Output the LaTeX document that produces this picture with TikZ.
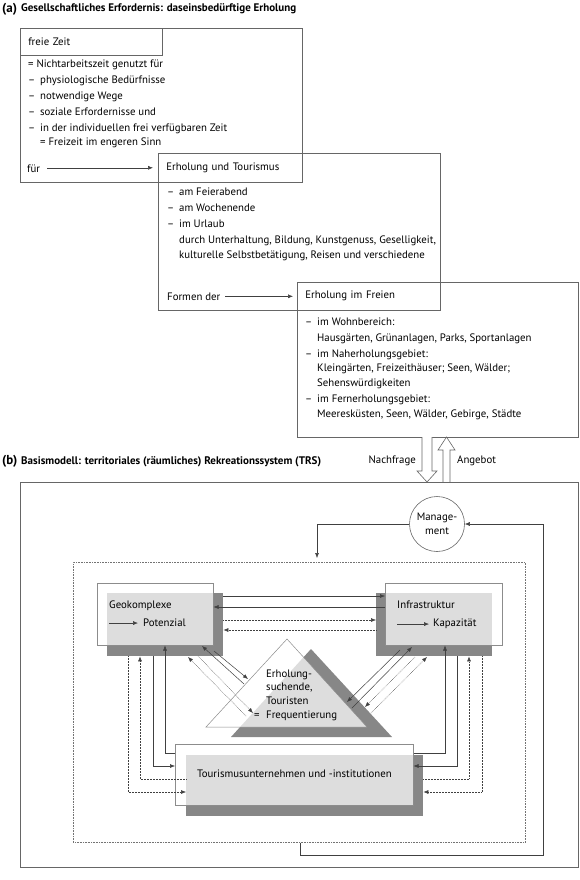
\documentclass[tikz,border=0pt]{standalone}
\usepackage{fontspec}
\setmainfont{PT Sans}
\usetikzlibrary{arrows.meta,calc}
\colorlet{dunkelgrau}{black!47}
\newcommand{\strich}{\makebox[12pt][l]{–}}

\begin{document}
\begin{tikzpicture}
[x=1pt,y=-1pt,
  every node/.style={font=\fontsize{10.8}{12}\selectfont,text=black},
  txt/.style={anchor=base west,inner sep=0pt},
  titel/.style={txt,font=\fontsize{11}{12}\selectfont\bfseries},
  box/.style={draw=black!60,line width=0.6pt,anchor=north west,inner sep=0pt},
  kopf/.style={box,align=left,inner xsep=8pt},
  dunkel/.style={fill=dunkelgrau,anchor=north west,inner sep=0pt},
  hell/.style={draw=black!45,line width=0.5pt,fill=white,fill opacity=0.72,anchor=north west,inner sep=0pt},
  pfeil/.style={-{Latex[length=5pt,width=4pt]},draw=black!75,line width=0.5pt},
  punkt/.style={pfeil,densely dotted},
  hohl/.style={draw=black!60,line width=0.6pt,fill=white}]
\useasboundingbox (0,0) rectangle (580,880);

%% (a) gesellschaftliches Erfordernis
\node[txt,font=\fontsize{13}{14}\selectfont\bfseries] (markeA) at (2,12.5) {(a)};
\node[titel] (titelA) at (21,12) {Gesellschaftliches Erfordernis: daseinsbedürftige Erholung};

\node[box,minimum width=282pt,minimum height=154pt] (freizeit) at (20,28) {};
\node[kopf,minimum width=142pt,minimum height=27pt,text width=126pt] (freikopfA) at (20,28) {freie Zeit};
\foreach \x/\y/\t [count=\i] in {28/64/{= Nichtarbeitszeit genutzt für},
    28/80/{\strich physiologische Bedürfnisse}, 28/96/{\strich notwendige Wege},
    28/112/{\strich soziale Erfordernisse und},
    28/128/{\strich in der individuellen frei verfügbaren Zeit},
    40/142/{= Freizeit im engeren Sinn}} {
  \node[txt] (zeile\i) at (\x,\y+3.8) {\t};
}
\node[txt] (fuer) at (27,172.8) {für};

\node[box,minimum width=282pt,minimum height=157pt] (erholung) at (158,153) {};
\node[kopf,minimum width=144pt,minimum height=29pt,text width=128pt] (erhkopf) at (158,153) {Erholung und Tourismus};
\foreach \x/\y/\t [count=\i] in {167/192/{\strich am Feierabend},
    167/208/{\strich am Wochenende}, 167/224/{\strich im Urlaub},
    179/240/{durch Unterhaltung, Bildung, Kunstgenuss, Geselligkeit,},
    179/255/{kulturelle Selbstbetätigung, Reisen und verschiedene}} {
  \node[txt] (form\i) at (\x,\y+3.8) {\t};
}
\node[txt] (formen) at (167,300.8) {Formen der};

\node[box,minimum width=281pt,minimum height=155pt] (freien) at (297,282) {};
\node[kopf,minimum width=143pt,minimum height=28pt,text width=127pt] (freikopf) at (297,282) {Erholung im Freien};
\foreach \x/\y/\t [count=\i] in {305/322/{\strich im Wohnbereich:},
    317/338/{Hausgärten, Grünanlagen, Parks, Sportanlagen},
    305/354/{\strich im Naherholungsgebiet:},
    317/368/{Kleingärten, Freizeithäuser; Seen, Wälder;},
    317/383/{Sehenswürdigkeiten},
    305/399/{\strich im Fernerholungsgebiet:},
    317/414/{Meeresküsten, Seen, Wälder, Gebirge, Städte}} {
  \node[txt] (ort\i) at (\x,\y+3.8) {\t};
}

\draw[pfeil,shorten <=7pt,shorten >=5pt] (fuer.east |- erhkopf.west) -- (erhkopf.west);
\draw[pfeil,shorten <=5pt,shorten >=4pt] (formen.east |- freikopf.west) -- (freikopf.west);

%% Nachfrage / Angebot
\draw[hohl] (422,437) -- (422,471) -- (417,471) -- (427,482) -- (437,471) -- (432,471) -- (432,437);
\draw[hohl] (443,482) -- (443,450) -- (438,450) -- (446.5,437) -- (455,450) -- (450,450) -- (450,482);
\node[anchor=base east,inner sep=0pt] (nachfrage) at (416,463.8) {Nachfrage};
\node[txt] (angebot) at (457,463.8) {Angebot};

%% (b) Basismodell
\node[txt,font=\fontsize{13}{14}\selectfont\bfseries] (markeB) at (2,464.5) {(b)};
\node[titel] (titelB) at (21,464) {Basismodell: territoriales (räumliches) Rekreationssystem (TRS)};

\node[box,minimum width=558pt,minimum height=385pt] (trs) at (20,482) {};
\node[box,densely dotted,draw=black!55,minimum width=452pt,minimum height=280pt] (system) at (73,562) {};
\node[circle,draw=black!60,line width=0.6pt,minimum size=55pt,inner sep=0pt,align=center,
  font=\fontsize{10.8}{14}\selectfont] (management) at (437,524) {Manage-\\ment};

%% Teilsysteme
\node[dunkel,minimum width=116pt,minimum height=63pt] (geoS) at (107,593) {};
\node[hell,minimum width=116pt,minimum height=62pt] (geo) at (97,583) {};
\node[dunkel,minimum width=116pt,minimum height=63pt] (infraS) at (376,593) {};
\node[hell,minimum width=117pt,minimum height=62pt] (infra) at (385,583) {};
\fill[dunkelgrau] (311,649) -- (231,737) -- (392,737) -- cycle;
\filldraw[hell] (287,639) -- (206,727) -- (367,727) -- cycle;
\node[dunkel,minimum width=237pt,minimum height=61pt] (tourS) at (186,755) {};
\node[hell,minimum width=238pt,minimum height=61pt] (tour) at (175,744) {};

\node[txt] (geotxt) at (109,608.8) {Geokomplexe};
\node[txt] (potenzial) at (143,626.8) {Potenzial};
\node[txt] (infratxt) at (397,608.8) {Infrastruktur};
\node[txt] (kapazitaet) at (433,626.8) {Kapazität};
\foreach \y/\t [count=\i] in {677.8/Erholung-, 690.8/{suchende,}, 704.8/Touristen, 718.8/Frequentierung} {
  \node[txt] (tourist\i) at (266,\y) {\t};
}
\node[txt] (gleich) at (254,718.8) {=};
\node[txt] (tourtxt) at (197,777.8) {Tourismusunternehmen und -institutionen};

\draw[pfeil,shorten >=5pt] (geotxt.west |- potenzial.west) -- (potenzial.west);
\draw[pfeil,shorten >=4pt] (infratxt.west |- kapazitaet.west) -- (kapazitaet.west);

%% Management
\draw[pfeil,shorten >=4pt] (management.west) -| (system.north -| 317,0);
\draw[pfeil] (system.south -| 300,0) |- (543,855) |- (management.east);

%% Geokomplexe <-> Infrastruktur
\draw[pfeil] (geoS.east |- 0,596) -- (infra.west |- 0,596);
\draw[pfeil] (infra.west |- 0,607) -- (geo.east |- 0,607);
\draw[punkt] (geoS.east |- 0,620) -- (infraS.west |- 0,620);
\draw[punkt] (infraS.west |- 0,630) -- (geoS.east |- 0,630);

%% Teilsysteme <-> Tourismusunternehmen
\draw[pfeil] (tour.west |- 0,753) -| (geo.south -| 165,0);
\draw[pfeil] (geoS.south -| 153,0) |- (tour.west |- 0,766);
\draw[punkt] (tourS.west |- 0,779) -| (geoS.south -| 140,0);
\draw[punkt] (geoS.south -| 128,0) |- (tourS.west |- 0,792);
\draw[pfeil] (tour.east |- 0,753) -| (infra.south -| 445,0);
\draw[pfeil] (infraS.south -| 457,0) |- (tour.east |- 0,766);
\draw[punkt] (tourS.east |- 0,779) -| (infraS.south -| 469,0);
\draw[punkt] (infraS.south -| 482,0) |- (tourS.east |- 0,792);

%% Teilsysteme <-> Erholungsuchende
\foreach \n/\x/\y in {l1/214/651, l2/248/679, l3/244/684, l4/202/646,
    l5/198/656, l6/253/713, l7/246/716, l8/188/657,
    r1/400/650, r2/347/702, r3/352/708, r4/412/647,
    r5/415/657, r6/365/707, r7/371/713, r8/427/657} {
  \coordinate (\n) at (\x,\y);
}
\path
\foreach \a/\b/\s in {l1/l2/pfeil, l3/l4/pfeil, l5/l6/punkt, l7/l8/punkt,
    r1/r2/pfeil, r3/r4/pfeil, r5/r6/punkt, r7/r8/punkt} {
  (\a) edge[\s] (\b)
};
\end{tikzpicture}
\end{document}
